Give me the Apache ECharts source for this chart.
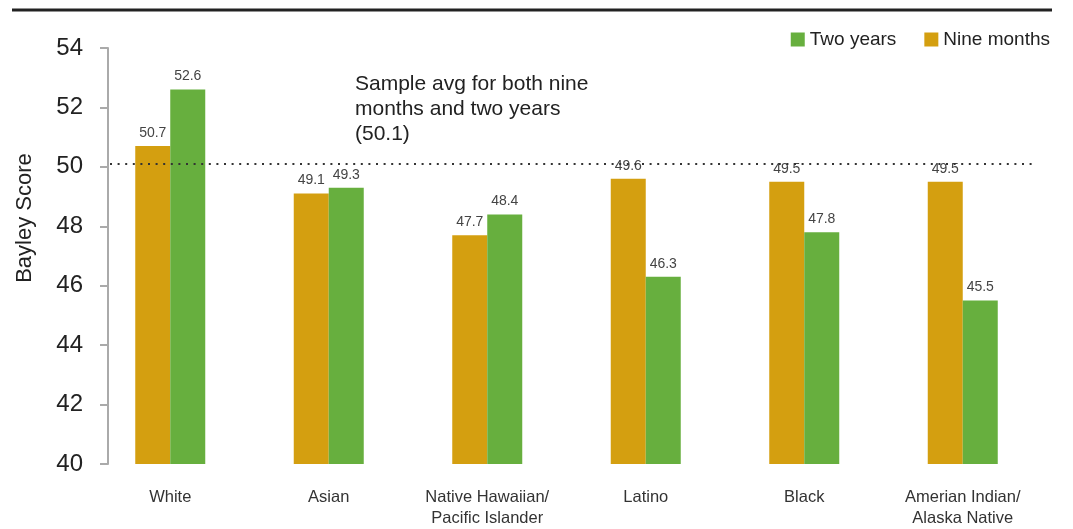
<!DOCTYPE html>
<html>
<head>
<meta charset="utf-8">
<script src="https://cdn.jsdelivr.net/npm/echarts@6/dist/echarts.min.js"></script>
<style>
  html, body { margin: 0; padding: 0; background: #fff; }
  #chart { width: 1073px; height: 529px; }
</style>
</head>
<body>
<div id="chart"></div>
<script>
// Bayley scores by group, at nine months and two years
const categories = ['White', 'Asian', 'Native Hawaiian/\nPacific Islander', 'Latino', 'Black', 'Amerian Indian/\nAlaska Native'];
const nineMonths = [50.7, 49.1, 47.7, 49.6, 49.5, 49.5];
const twoYears = [52.6, 49.3, 48.4, 46.3, 47.8, 45.5];
const sampleAvg = 50.1;
const yTicks = [40, 42, 44, 46, 48, 50, 52, 54];

const FONT = '"Liberation Sans", Arial, sans-serif';
const GOLD = '#D49F10';
const GREEN = '#67AF3E';

const chart = echarts.init(document.getElementById('chart'), null, { renderer: 'canvas' });

const labelStyle = {
  show: true,
  position: 'top',
  distance: 6,
  fontFamily: FONT,
  fontSize: 14,
  color: '#444'
};

chart.setOption({
  animation: false,
  textStyle: { fontFamily: FONT },
  grid: { left: 91, right: 31, top: 48, bottom: 61 },
  legend: {
    data: ['Two years', 'Nine months'],
    right: 18,
    top: 25,
    itemWidth: 14,
    itemHeight: 14,
    itemGap: 28,
    icon: 'rect',
    textStyle: { fontFamily: FONT, fontSize: 19, color: '#222' }
  },
  xAxis: {
    type: 'category',
    data: categories,
    axisLine: { show: false },
    axisTick: { show: false },
    axisLabel: {
      margin: 23,
      fontFamily: FONT,
      fontSize: 16.5,
      lineHeight: 21,
      color: '#333',
      interval: 0
    }
  },
  yAxis: {
    type: 'value',
    min: yTicks[0],
    max: yTicks[yTicks.length - 1],
    interval: 2,
    offset: -17,
    splitLine: { show: false },
    axisLine: { show: true, lineStyle: { color: '#aaa', width: 2 } },
    axisTick: { show: true, length: 8, lineStyle: { color: '#aaa', width: 2 } },
    axisLabel: {
      margin: 25,
      fontFamily: FONT,
      fontSize: 24,
      color: '#222'
    }
  },
  series: [
    {
      name: 'Nine months',
      type: 'bar',
      data: nineMonths,
      barWidth: 35,
      barGap: '0%',
      itemStyle: { color: GOLD },
      label: labelStyle
    },
    {
      name: 'Two years',
      type: 'bar',
      data: twoYears,
      barWidth: 35,
      barGap: '0%',
      itemStyle: { color: GREEN },
      label: labelStyle
    }
  ]
});

// Sample average reference line, positioned through the value axis
const avgY = chart.convertToPixel({ yAxisIndex: 0 }, sampleAvg);

chart.setOption({
  graphic: [
    {
      type: 'line',
      shape: { x1: 12, y1: 10, x2: 1052, y2: 10 },
      style: { stroke: '#222', lineWidth: 3 }
    },
    {
      type: 'line',
      shape: { x1: 110, y1: avgY, x2: 1032, y2: avgY },
      style: { stroke: '#333', lineWidth: 2, lineDash: [2, 5.6] },
      z: 10
    },
    {
      type: 'text',
      left: 355,
      top: 72,
      style: {
        text: 'Sample avg for both nine\nmonths and two years\n(50.1)',
        font: '21px ' + FONT,
        fill: '#222',
        lineHeight: 25
      }
    },
    {
      type: 'text',
      x: 25,
      y: 218,
      rotation: Math.PI / 2,
      style: {
        text: 'Bayley Score',
        font: '22px ' + FONT,
        fill: '#222',
        align: 'center',
        verticalAlign: 'middle'
      }
    }
  ]
});
</script>
</body>
</html>
